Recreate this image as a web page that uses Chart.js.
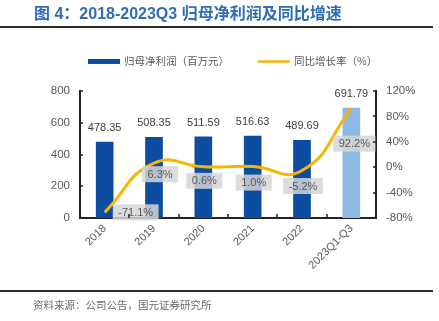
<!DOCTYPE html>
<html>
<head>
<meta charset="utf-8">
<script src="https://cdn.jsdelivr.net/npm/chart.js@4"></script>
<style>
  html, body { margin: 0; padding: 0; background: #fff; }
  #caja { width: 439px; height: 321px; position: relative; }
</style>
</head>
<body>
<div id="caja"><canvas id="grafico"></canvas></div>
<script>
// datos
const anios = ["2018", "2019", "2020", "2021", "2022", "2023Q1-Q3"];
const beneficio = [478.35, 508.35, 511.59, 516.63, 489.69, 691.79]; // 百万元
const crecimiento = [-71.1, 6.3, 0.6, 1.0, -5.2, 92.2];            // %
const ticksIzq = [0, 200, 400, 600, 800];
const ticksDer = [-80, -40, 0, 40, 80, 120];

const AZUL = "#0c4da2";
const AZUL_CLARO = "#8cbae3";
const NARANJA = "#f7b500";
const GRIS = "#595959";
const LATIN = '"Liberation Sans", Arial, sans-serif';
const CJK = '"Noto Sans CJK SC", sans-serif';

// etiquetas de valor: barras arriba, línea en cajas grises
const etiquetas = {
    id: "etiquetas",
    afterDatasetsDraw(chart, args, opts) {
        const ctx = chart.ctx;
        ctx.save();
        ctx.font = "11px " + LATIN;
        ctx.textAlign = "center";
        ctx.textBaseline = "middle";

        chart.getDatasetMeta(0).data.forEach((bar, i) => {
            ctx.fillStyle = "#404040";
            ctx.fillText(beneficio[i].toFixed(2), bar.x, bar.y - 14);
        });

        chart.getDatasetMeta(1).data.forEach((pt, i) => {
            const txt = crecimiento[i].toFixed(1) + "%";
            const [dx, dy] = opts.desplazamiento[i];
            const cx = pt.x + dx, cy = pt.y + dy;
            const w = ctx.measureText(txt).width + 11;
            const h = 16;
            ctx.fillStyle = "rgba(214,214,214,0.85)";
            ctx.fillRect(cx - w / 2, cy - h / 2, w, h);
            ctx.fillStyle = GRIS;
            ctx.fillText(txt, cx, cy + 0.5);
        });
        ctx.restore();
    }
};

// título, leyenda, fuente, marcas de ejes hacia dentro
const marco = {
    id: "marco",
    beforeDraw(chart) {
        const ctx = chart.ctx;
        ctx.save();
        ctx.fillStyle = "#fff";
        ctx.fillRect(0, 0, chart.width, chart.height);
        ctx.restore();
    },
    afterDraw(chart) {
        const ctx = chart.ctx;
        const area = chart.chartArea;
        const sx = chart.scales.x, sy = chart.scales.y, sy1 = chart.scales.y1;
        ctx.save();

        // título
        ctx.textBaseline = "middle";
        ctx.textAlign = "left";
        ctx.fillStyle = "#2f6db5";
        ctx.font = "bold 16px " + LATIN + ", " + CJK;
        ctx.fillText("图 4：2018-2023Q3 归母净利润及同比增速", 34, 15);
        ctx.fillStyle = "#2b2b2b";
        ctx.fillRect(0, 26, 433, 2);

        // leyenda
        const ds = chart.data.datasets;
        ctx.font = "10.5px " + CJK;
        ctx.fillStyle = AZUL;
        ctx.fillRect(88, 59, 32, 5);
        ctx.fillStyle = GRIS;
        ctx.fillText(ds[0].label, 124, 61.5);
        ctx.strokeStyle = NARANJA;
        ctx.lineWidth = 2.5;
        ctx.beginPath();
        ctx.moveTo(258, 61.5);
        ctx.lineTo(290, 61.5);
        ctx.stroke();
        ctx.fillStyle = GRIS;
        ctx.fillText(ds[1].label, 294, 61.5);

        // pie
        ctx.fillStyle = "#2b2b2b";
        ctx.fillRect(0, 290, 433, 2);
        ctx.fillStyle = "#6a6a6a";
        ctx.font = "10.5px " + CJK;
        ctx.fillText("资料来源：公司公告，国元证券研究所", 33, 305);

        // marcas
        ctx.strokeStyle = "#222";
        ctx.lineWidth = 1.5;
        ctx.beginPath();
        sy.ticks.forEach(t => {
            const y = Math.round(sy.getPixelForValue(t.value));
            ctx.moveTo(area.left, y);
            ctx.lineTo(area.left + 3, y);
        });
        sy1.ticks.forEach(t => {
            const y = Math.round(sy1.getPixelForValue(t.value));
            ctx.moveTo(area.right, y);
            ctx.lineTo(area.right - 3, y);
        });
        for (let i = 1; i < anios.length; i++) {
            const x = Math.round((sx.getPixelForValue(i - 1) + sx.getPixelForValue(i)) / 2);
            ctx.moveTo(x, area.bottom);
            ctx.lineTo(x, area.bottom - 4);
        }
        ctx.stroke();
        ctx.restore();
    }
};

new Chart(document.getElementById("grafico"), {
    data: {
        labels: anios,
        datasets: [
            {
                type: "bar",
                label: "归母净利润（百万元）",
                data: beneficio,
                yAxisID: "y",
                backgroundColor: anios.map((a, i) => i === anios.length - 1 ? AZUL_CLARO : AZUL),
                barThickness: 17,
                order: 1
            },
            {
                type: "line",
                label: "同比增长率（%）",
                data: crecimiento,
                yAxisID: "y1",
                borderColor: NARANJA,
                borderWidth: 3,
                pointRadius: 0,
                tension: 0.5,
                order: 0
            }
        ]
    },
    options: {
        responsive: true,
        maintainAspectRatio: false,
        animation: false,
        layout: { padding: { top: 91, bottom: 0, left: 0, right: 0 } },
        plugins: {
            legend: { display: false },
            tooltip: { enabled: false },
            etiquetas: {
                desplazamiento: [[31, 0], [6, 11], [1, 14], [1, 16], [1, 15.5], [3, 35]]
            }
        },
        scales: {
            x: {
                grid: { display: false, drawTicks: false },
                border: { color: "#222", width: 2 },
                ticks: {
                    color: GRIS,
                    font: { family: LATIN, size: 11 },
                    minRotation: 45,
                    maxRotation: 45,
                    padding: 4,
                    autoSkip: false
                },
                afterFit(s) { s.height = 103; }
            },
            y: {
                position: "left",
                min: ticksIzq[0],
                max: ticksIzq[ticksIzq.length - 1],
                grid: { display: false, drawTicks: false },
                border: { color: "#222", width: 2 },
                ticks: {
                    stepSize: ticksIzq[1] - ticksIzq[0],
                    color: GRIS,
                    font: { family: LATIN, size: 11.5 },
                    padding: 10
                },
                afterFit(s) { s.width = 80; }
            },
            y1: {
                position: "right",
                min: ticksDer[0],
                max: ticksDer[ticksDer.length - 1],
                grid: { display: false, drawTicks: false },
                border: { color: "#222", width: 2 },
                ticks: {
                    stepSize: ticksDer[1] - ticksDer[0],
                    color: GRIS,
                    font: { family: LATIN, size: 11.5 },
                    padding: 10,
                    callback: v => v + "%"
                },
                afterFit(s) { s.width = 63; }
            }
        }
    },
    plugins: [etiquetas, marco]
});
</script>
</body>
</html>
